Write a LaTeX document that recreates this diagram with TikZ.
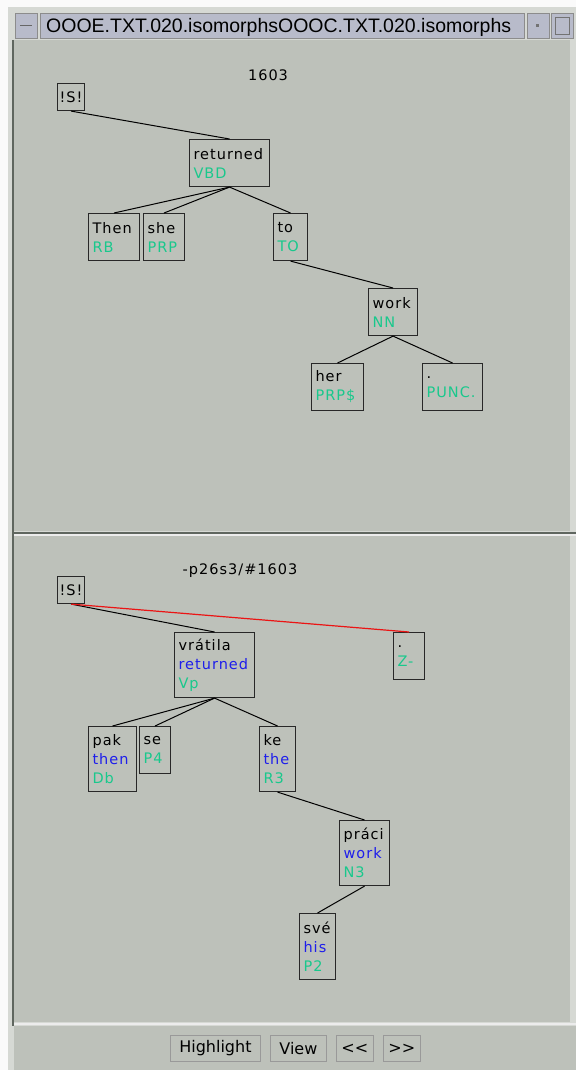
\documentclass[tikz,border=0pt]{standalone}
\usepackage{fontspec}
\setmainfont{DejaVu Sans}
\newfontfamily\treefont[LetterSpace=7]{DejaVu Sans}
\newfontfamily\titlefont{Liberation Sans}
\definecolor{panelbg}{RGB}{189,193,186}
\definecolor{framebg}{RGB}{214,217,212}
\definecolor{barbg}{RGB}{184,187,202}
\definecolor{boxline}{RGB}{40,40,40}
\definecolor{posgreen}{RGB}{25,200,140}
\definecolor{glossblue}{RGB}{30,30,235}
\definecolor{linkred}{RGB}{235,20,20}
\definecolor{darkrule}{RGB}{95,102,95}
\newcommand\postag[1]{\textcolor{posgreen}{#1}}
\newcommand\engloss[1]{\textcolor{glossblue}{#1}}
\tikzset{
  treetext/.style ={font=\treefont\fontsize{14.5}{19}\selectfont},
  wbox/.style  ={treetext, draw=boxline, line width=1.1pt, anchor=north west,
                 inner xsep=4pt, inner ysep=0pt, align=left},
  sbox/.style  ={treetext, draw=boxline, line width=1.1pt, anchor=north west,
                 inner sep=0pt, minimum width=27pt, minimum height=27pt},
  branch/.style={draw=black, line width=1pt},
  redlink/.style={draw=linkred, line width=1.2pt},
  btn/.style   ={draw=black!40, fill=panelbg, line width=0.8pt, anchor=north west,
                 inner sep=0pt, minimum height=26pt, font=\fontsize{16}{18}\selectfont},
  barbtn/.style={draw=black!45, fill=barbg, line width=0.6pt},
}

\begin{document}
\begin{tikzpicture}[x=1pt,y=-1pt]
  \useasboundingbox (0,0) rectangle (576,1070);
  % window frame
  \fill[white!96!gray] (0,0) rectangle (576,1070);
  \fill[framebg] (8,7) rectangle (576,1070);
  \draw[barbtn] (15,13) rectangle (37,38);
  \draw[black!60,line width=1.5pt] (20,25.5) -- (32,25.5);
  \draw[barbtn] (40,13) rectangle (524,38);
  \node[font=\titlefont\fontsize{19.5}{22}\selectfont, anchor=base west, inner sep=0pt] (title) at (46,33) {OOOE.TXT.020.isomorphsOOOC.TXT.020.isomorphs};
  \draw[barbtn] (527,13) rectangle (549,38);
  \fill[black!55] (536,24) rectangle (539,27);
  \draw[barbtn] (551,13) rectangle (573,38);
  \draw[black!55,line width=0.8pt] (555,17) rectangle (569,34);
  % panels
  \fill[panelbg] (14,40) rectangle (570,531);
  \fill[panelbg] (14,536) rectangle (570,1022);
  \fill[panelbg] (14,1026) rectangle (576,1070);
  \draw[darkrule,line width=2.5pt] (13,40) -- (13,1026);
  \draw[darkrule,line width=2pt] (14,532.5) -- (576,532.5);
  \draw[white!85!gray,line width=1.2pt] (14,535) -- (576,535);
  \draw[white!85!gray,line width=1.5pt] (14,1024) -- (576,1024);

  % upper tree
  \node[treetext] (idA) at (268,75) {1603};
  \node[sbox] (sA) at (57,83) {!S!};
  \node[wbox, text width=72pt, minimum height=47pt] (retA) at (189,139) {returned\\\postag{VBD}};
  \node[wbox, text width=43pt, minimum height=47pt] (thenA) at (88,213) {Then\\\postag{RB}};
  \node[wbox, text width=33pt, minimum height=47pt] (sheA) at (143,213) {she\\\postag{PRP}};
  \node[wbox, text width=26pt, minimum height=47pt] (toA) at (273,213) {to\\\postag{TO}};
  \node[wbox, text width=41pt, minimum height=47pt] (workA) at (368,288) {work\\\postag{NN}};
  \node[wbox, text width=44pt, minimum height=47pt] (herA) at (311,363) {her\\\postag{PRP\$}};
  \node[wbox, text width=52pt, minimum height=47pt] (punA) at (422,363) {.\\\postag{PUNC.}};
  \draw[branch] (sA.south) -- (retA.north);
  \draw[branch] (retA.south) -- (thenA.north);
  \draw[branch] (retA.south) -- (sheA.north);
  \draw[branch] (retA.south) -- (toA.north);
  \draw[branch] (toA.south) -- (workA.north);
  \draw[branch] (workA.south) -- (herA.north);
  \draw[branch] (workA.south) -- (punA.north);

  % lower tree
  \node[treetext] (idB) at (240,571) {-p26s3/\#1603};
  \node[sbox] (sB) at (57,576) {!S!};
  \node[wbox, text width=72pt, minimum height=65pt] (retB) at (174,632) {vrátila\\\engloss{returned}\\\postag{Vp}};
  \node[wbox, text width=23pt, minimum height=47pt] (zB) at (393,632) {.\\\postag{Z-}};
  \node[wbox, text width=40pt, minimum height=65pt] (pakB) at (88,726) {pak\\\engloss{then}\\\postag{Db}};
  \node[wbox, text width=23pt, minimum height=47pt] (seB) at (139,726) {se\\\postag{P4}};
  \node[wbox, text width=28pt, minimum height=65pt] (keB) at (259,726) {ke\\\engloss{the}\\\postag{R3}};
  \node[wbox, text width=42pt, minimum height=65pt] (pracB) at (339,820) {práci\\\engloss{work}\\\postag{N3}};
  \node[wbox, text width=28pt, minimum height=66pt] (sveB) at (299,913) {své\\\engloss{his}\\\postag{P2}};
  \draw[branch] (sB.south) -- (retB.north);
  \draw[redlink] (sB.south) -- (zB.north);
  \draw[branch] (retB.south) -- (pakB.north);
  \draw[branch] (retB.south) -- (seB.north);
  \draw[branch] (retB.south) -- (keB.north);
  \draw[branch] (keB.south) -- (pracB.north);
  \draw[branch] (pracB.south) -- (sveB.north);

  % button bar
  \node[btn, minimum width=90pt] (hl) at (170,1035) {Highlight};
  \node[btn, minimum width=56pt] (vw) at (270,1035) {View};
  \node[btn, minimum width=37pt] (bk) at (336,1035) {<{}<};
  \node[btn, minimum width=37pt] (fw) at (383,1035) {>{}>};
\end{tikzpicture}
\end{document}
